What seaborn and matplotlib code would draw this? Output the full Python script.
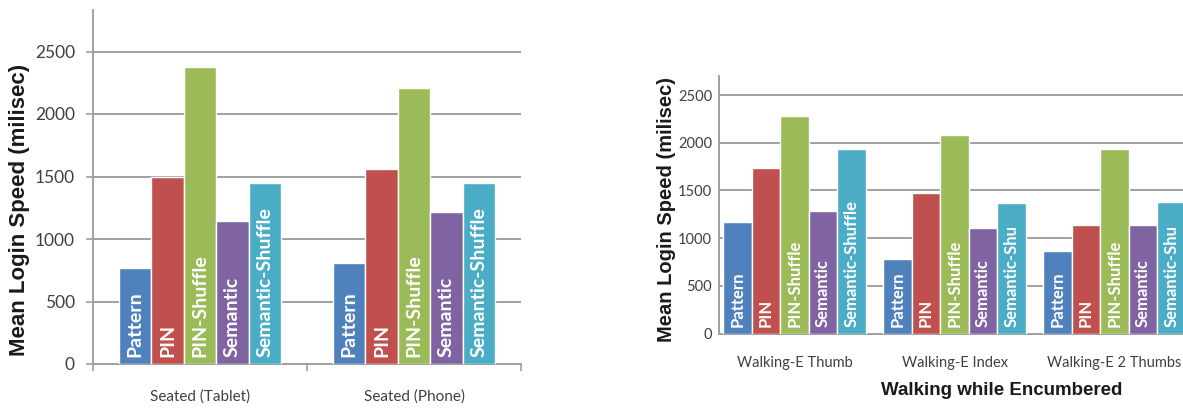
import seaborn as sns
import matplotlib.pyplot as plt
from matplotlib.ticker import FixedLocator
import pandas as pd

sns.set_theme(style="white")
plt.rcParams['font.family'] = ['Lato', 'DejaVu Sans']

methods = ['Pattern', 'PIN', 'PIN-Shuffle', 'Semantic', 'Semantic-Shuffle']
colors = ['#4F81BD', '#C0504D', '#9BBB59', '#8064A2', '#4BACC6']

seated_conditions = ['Seated (Tablet)', 'Seated (Phone)']
seated_pattern = [768, 812]
seated_pin = [1500, 1560]
seated_pin_shuffle = [2375, 2207]
seated_semantic = [1146, 1218]
seated_semantic_shuffle = [1452, 1452]

walking_conditions = ['Walking-E Thumb', 'Walking-E Index', 'Walking-E 2 Thumbs']
walking_pattern = [1164, 784, 866]
walking_pin = [1733, 1474, 1140]
walking_pin_shuffle = [2285, 2080, 1935]
walking_semantic = [1287, 1111, 1140]
walking_semantic_shuffle = [1936, 1367, 1378]
# the source image cuts the long label short in the narrower bars
walking_sem_shuffle_labels = ['Semantic-Shuffle', 'Semantic-Shu', 'Semantic-Shu']

def long_table(conditions, series):
    rows = []
    for m, vals in zip(methods, series):
        for c, v in zip(conditions, vals):
            rows.append({'condition': c, 'method': m, 'time': v})
    return pd.DataFrame(rows)

seated_df = long_table(seated_conditions, [seated_pattern, seated_pin, seated_pin_shuffle,
                                           seated_semantic, seated_semantic_shuffle])
walking_df = long_table(walking_conditions, [walking_pattern, walking_pin, walking_pin_shuffle,
                                             walking_semantic, walking_semantic_shuffle])

W, H = 1183, 408
fig = plt.figure(figsize=(W / 100, H / 100), dpi=100)
ax1 = fig.add_axes([93 / W, 1 - 364 / H, 428 / W, 354 / H])
ax2 = fig.add_axes([719 / W, 1 - 333.5 / H, 480 / W, 257.5 / H])

grid_c = '#a0a0a0'
tick_c = '#404040'

def draw(ax, df, conditions, width, ymax, label_size, labels_per_method):
    sns.barplot(data=df, x='condition', y='time', hue='method', order=conditions,
                hue_order=methods, palette=colors, width=width, saturation=1,
                errorbar=None, legend=False, ax=ax, zorder=3)
    ax.set_ylim(0, ymax)
    ax.set_yticks([0, 500, 1000, 1500, 2000, 2500])
    ax.yaxis.grid(True, color=grid_c, linewidth=1.4)
    ax.set_axisbelow(True)
    for s in ['top', 'right']:
        ax.spines[s].set_visible(False)
    for s in ['left', 'bottom']:
        ax.spines[s].set_color(grid_c)
        ax.spines[s].set_linewidth(1.4)
    ax.set_xlabel('')
    for cont, labs in zip(ax.containers, labels_per_method):
        for bar, lab in zip(cont.patches, labs):
            ax.annotate(lab, (bar.get_x() + bar.get_width() / 2, 0),
                        xytext=(0, 5), textcoords='offset points',
                        rotation=90, ha='center', va='bottom', color='white',
                        fontsize=label_size, fontweight='bold', zorder=4,
                        annotation_clip=False)

seated_labels = [[m] * len(seated_conditions) for m in methods]
walking_labels = [[m] * len(walking_conditions) for m in methods[:4]] + [walking_sem_shuffle_labels]

draw(ax1, seated_df, seated_conditions, 0.76, 2832, 14, seated_labels)
draw(ax2, walking_df, walking_conditions, 0.89, 2700, 12, walking_labels)

# left panel: Excel-like ticks
ax1.set_xlim(-0.5, 1.5)
ax1.xaxis.set_minor_locator(FixedLocator([-0.5, 0.5, 1.5]))
ax1.tick_params(axis='x', which='major', length=0, pad=18, labelsize=11, labelcolor=tick_c)
ax1.tick_params(axis='x', which='minor', bottom=True, length=5, width=1.2, color=grid_c)
ax1.tick_params(axis='y', left=True, length=5, width=1.2, color=grid_c, pad=8,
                labelsize=12.5, labelcolor=tick_c)
ax1.set_ylabel('Mean Login Speed (milisec)', fontsize=16, fontweight='bold',
               family=['Liberation Sans', 'DejaVu Sans'], color='#1a1a1a')
ax1.yaxis.label.set(va='center', ha='center', rotation_mode='anchor')
ax1.yaxis.set_label_coords(-0.171, 0.435)

# right panel
ax2.set_xlim(-0.472, 2.528)
ax2.tick_params(axis='x', length=0, pad=16, labelsize=10.5, labelcolor=tick_c)
ax2.tick_params(axis='y', length=0, pad=5, labelsize=10.5, labelcolor=tick_c)
ax2.set_ylabel('Mean Login Speed (milisec)', fontsize=14.5, fontweight='bold',
               family=['Liberation Sans', 'DejaVu Sans'], color='#1a1a1a')
ax2.yaxis.label.set(va='center', ha='center', rotation_mode='anchor')
ax2.yaxis.set_label_coords(-0.110, 0.483)
ax2.set_xlabel('Walking while Encumbered', fontsize=13.5, fontweight='bold',
               family=['Liberation Sans', 'DejaVu Sans'], color='#1a1a1a')
ax2.xaxis.label.set(va='center', ha='center')
ax2.xaxis.set_label_coords(0.588, -0.222)

fig.savefig('out.png', dpi=100)
